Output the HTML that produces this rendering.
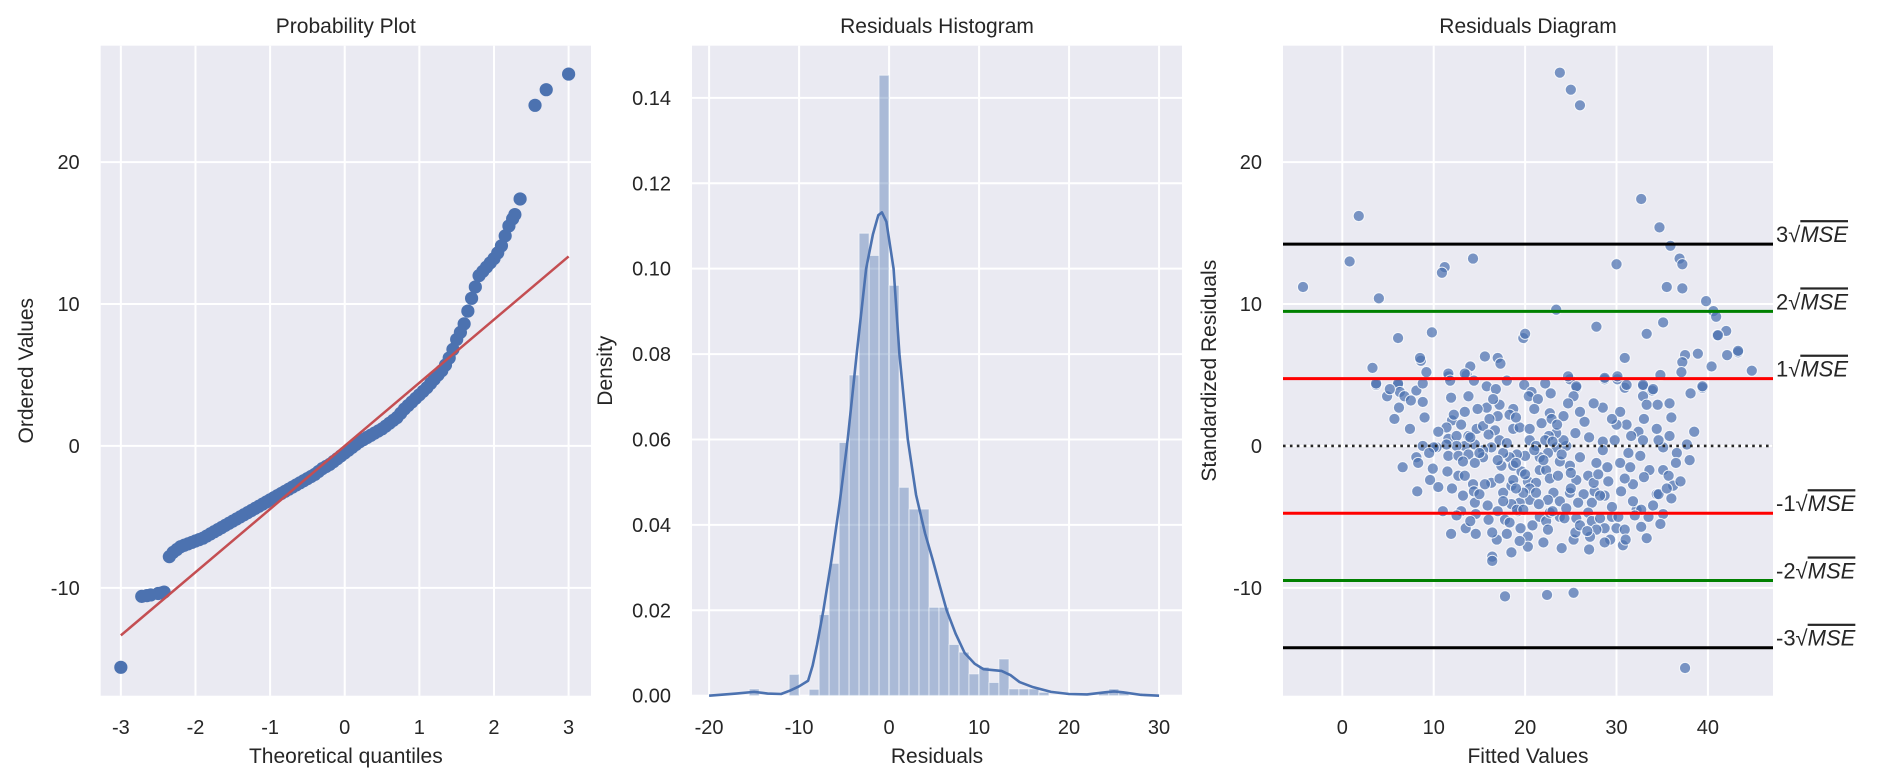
<!DOCTYPE html>
<html><head><meta charset="utf-8">
<style>
html,body{margin:0;padding:0;background:#fff;}
svg{display:block;font-family:"Liberation Sans","NanumGothic",sans-serif;}
</style></head>
<body>
<svg id="fig" width="1882" height="781" viewBox="0 0 1882 781" xmlns="http://www.w3.org/2000/svg"></svg>
<script>
// ---------- Panel 1: probability plot data ----------
const qqTheoretical = [-3.0,-2.72,-2.6,-2.5,-2.42,-2.35,-2.3,-2.2,-2.1,-2.0,-1.9,-1.8,-1.7,-1.6,-1.5,-1.4,-1.3,-1.2,-1.1,-1.0,-0.9,-0.8,-0.7,-0.6,-0.5,-0.4,-0.3,-0.2,-0.1,0,0.1,0.2,0.3,0.4,0.5,0.6,0.7,0.8,0.9,1.0,1.1,1.2,1.3,1.4,1.5,1.6,1.7,1.8,1.9,2.0,2.1,2.2,2.28,2.35,2.55,2.7,3.0,
-2.65,-2.45,-2.25,-2.15,-2.05,-1.95,-1.85,-1.75,-1.65,-1.55,-1.45,-1.35,-1.25,-1.15,-1.05,-0.95,-0.85,-0.75,-0.65,-0.55,-0.45,-0.35,-0.25,-0.15,-0.05,0.05,0.15,0.25,0.35,0.45,0.55,0.65,0.75,0.85,0.95,1.05,1.15,1.25,1.35,1.45,1.55,1.65,1.75,1.85,1.95,2.05,2.15,2.25];
const qqOrdered = [-15.6,-10.6,-10.5,-10.4,-10.3,-7.8,-7.5,-7.1,-6.9,-6.7,-6.5,-6.2,-5.9,-5.6,-5.3,-5.0,-4.7,-4.4,-4.1,-3.8,-3.5,-3.2,-2.9,-2.6,-2.3,-2.0,-1.6,-1.3,-0.9,-0.5,-0.1,0.3,0.6,0.9,1.2,1.6,2.0,2.6,3.1,3.6,4.1,4.7,5.3,6.2,7.5,8.6,10.4,12.0,12.6,13.2,14.1,15.5,16.3,17.4,24.0,25.1,26.2,
-10.55,-10.35,-7.3,-7.0,-6.8,-6.6,-6.35,-6.05,-5.75,-5.45,-5.15,-4.85,-4.55,-4.25,-3.95,-3.65,-3.35,-3.05,-2.75,-2.45,-2.15,-1.8,-1.45,-1.1,-0.7,-0.3,0.1,0.45,0.75,1.05,1.4,1.8,2.3,2.85,3.35,3.85,4.4,5.0,5.7,6.8,8.0,9.5,11.2,12.3,12.9,13.6,14.8,16.0];
const qqFitSlope = 4.45;
const qqFitIntercept = 0.0;
const qqFitRange = [-3, 3];
const p1XTicks = [-3,-2,-1,0,1,2,3];
const p1YTicks = [-10,0,10,20];

// ---------- Panel 2: histogram data ----------
const binStart = -15.54;
const binWidth = 1.11;
const binDensity = [0.0016,0,0,0,0.005,0,0.0015,0.019,0.031,0.0593,0.0751,0.1083,0.1031,0.1453,0.0961,0.0488,0.0437,0.0437,0.0207,0.0207,0.012,0.0102,0.0051,0.0067,0.0031,0.0086,0.0016,0.0016,0.0016,0.0008,0,0,0,0,0,0.0008,0.0016,0.0008];
const kdeX = [-20,-17,-15,-13.5,-12,-11,-10,-9,-8.5,-8,-7.3,-6.4,-5.5,-4.6,-3.6,-2.55,-1.8,-1.2,-0.8,-0.3,0.5,1.15,2.08,3,4,4.85,5.6,6.4,7.4,8.4,9.5,10.5,11.5,12.5,13.5,14.5,16,18,20,22,24,25,26,28,30];
const kdeY = [0,0.0005,0.0009,0.0005,0.0004,0.0012,0.0022,0.0035,0.007,0.012,0.02,0.0318,0.045,0.06,0.08,0.10,0.108,0.1125,0.1132,0.111,0.10,0.08,0.06,0.047,0.038,0.0318,0.026,0.02,0.0145,0.01,0.0075,0.0062,0.006,0.0058,0.0048,0.0032,0.002,0.0009,0.0004,0.0003,0.0008,0.001,0.0008,0.0002,0];
const p2XTicks = [-20,-10,0,10,20,30];
const p2YTicks = [0,0.02,0.04,0.06,0.08,0.10,0.12,0.14];
const p2YTickLabels = ["0.00","0.02","0.04","0.06","0.08","0.10","0.12","0.14"];

// ---------- Panel 3: residuals diagram data ----------
const residualPoints = [
[23.8,26.3],[25.0,25.1],[26.0,24.0],[1.8,16.2],[32.7,17.4],[34.7,15.4],[35.9,14.1],[36.9,13.2],[37.2,12.8],[30.0,12.8],
[14.3,13.2],[11.2,12.6],[10.9,12.2],[0.8,13.0],[-4.3,11.2],[4.0,10.4],[35.5,11.2],[37.2,11.1],[39.8,10.2],[40.6,9.5],
[40.9,9.1],[23.4,9.6],[27.8,8.4],[35.1,8.7],[33.3,7.9],[42.0,8.1],[41.0,7.8],[9.8,8.0],[6.1,7.6],[19.8,7.6],
[20.0,7.9],[43.3,6.6],[42.1,6.4],[38.9,6.5],[37.5,6.4],[30.9,6.2],[15.6,6.3],[17.0,6.2],[17.3,5.8],[14.0,5.6],
[8.6,6.0],[3.3,5.5],[9.2,5.2],[44.8,5.3],[40.4,5.6],[37.2,5.9],[37.1,5.2],[34.8,5.0],[30.1,4.7],[28.7,4.7],
[24.9,4.7],[25.6,4.1],[11.6,4.9],[13.6,5.0],[3.7,4.3],[6.1,4.3],[32.9,4.2],[39.4,4.1],[33.9,3.9],[30.9,4.1],
[11.6,5.1],[13.4,5.1],[8.5,6.2],[43.3,6.7],[41.1,7.8],
[3.7,4.4],[6.1,4.4],[6.3,3.8],[6.8,3.5],[4.9,3.5],[8.1,3.9],[8.8,4.4],[8.8,3.1],[6.2,2.7],[5.7,1.9],
[7.4,1.2],[11.8,4.6],[14.4,4.6],[11.9,3.4],[13.8,3.5],[15.8,4.2],[16.8,4.0],[18.0,4.6],[19.9,4.3],[20.7,3.8],
[20.4,3.5],[21.4,3.3],[22.2,4.4],[22.8,3.7],[24.7,4.9],[25.6,4.2],[25.3,3.5],[24.7,3.0],[28.7,4.8],[30.1,4.9],
[31.1,4.3],[32.9,4.3],[34.0,4.0],[32.9,3.5],[33.3,2.9],[34.5,2.9],[35.8,3.0],[38.1,3.7],[39.4,4.2],[28.5,2.7],
[30.4,2.4],[31.1,1.5],[32.4,1.0],[34.4,1.2],[35.8,0.7],[37.7,0.1],[36.6,-0.5],[35.1,-0.1],[34.6,0.4],[32.9,0.4],
[31.6,0.7],[29.8,0.4],[28.5,0.3],[28.5,-0.3],[31.3,-0.5],[32.6,-0.7],[33.6,-1.7],[35.1,-1.7],[35.7,-2.1],[36.2,-2.8],
[36.0,-3.7],[34.4,-3.4],[31.8,-2.7],[30.9,-2.3],[30.4,-1.2],[29.1,-2.5],[28.7,-3.5],[27.8,-1.2],[26.9,-2.1],[27.6,-3.2],
[27.3,-4.0],[26.4,-3.4],[25.8,-4.0],[24.9,-3.3],[25.6,-2.4],[24.9,-1.4],[23.8,-1.1],[24.5,0.0],[25.5,0.9],[24.2,0.4],
[23.4,0.9],[22.6,0.7],[21.8,1.6],[24.2,2.1],[22.7,2.3],[22.9,1.9],[18.7,2.6],[18.3,2.2],[17.0,2.1],[17.2,2.9],
[15.8,2.7],[14.8,2.6],[13.4,2.4],[12.0,1.8],[11.4,1.3],[11.6,0.5],[12.5,0.7],[13.8,0.7],[14.7,1.2],[15.4,1.4],
[16.1,1.9],[16.7,1.1],[17.2,0.4],[18.7,1.2],[19.4,1.3],[20.5,1.2],[20.5,0.4],[21.2,0.0],[22.2,0.4],[23.4,-0.1],
[22.5,-0.5],[21.6,-0.8],[20.0,-0.7],[19.1,-0.6],[18.3,-0.8],[17.6,-0.5],[16.3,-0.1],[15.4,-0.3],[14.5,0.1],[13.4,0.0],
[12.5,0.0],[11.4,0.1],[10.3,-0.1],[8.8,0.0],[10.0,-0.1],[11.6,-0.7],[12.7,-0.7],[13.8,-0.6],[15.4,-0.8],[14.5,-1.2],
[13.2,-1.1],[8.1,-0.8],[8.3,-1.2],[6.6,-1.5],[9.9,-1.6],[9.6,-2.4],[8.2,-3.2],[12.7,-2.1],[13.4,-2.1],[14.3,-2.7],
[14.4,-3.2],[13.2,-3.5],[14.5,-4.0],[15.9,-4.2],[16.3,-2.6],[17.2,-2.3],[17.6,-3.3],[18.5,-2.8],[18.7,-1.4],[19.6,-1.8],
[20.3,-2.5],[20.5,-3.8],[19.4,-4.0],[19.2,-4.6],[18.5,-4.1],[17.6,-3.9],[17.8,-5.2],[18.3,-5.4],[19.1,-4.5],[19.8,-4.5],
[21.6,-5.0],[22.3,-5.3],[22.7,-4.7],[23.8,-5.0],[24.3,-5.1],[25.6,-5.1],[26.9,-4.7],[27.3,-5.3],[28.2,-5.1],[28.7,-5.8],
[29.5,-5.0],[30.2,-5.0],[30.0,-5.8],[30.9,-5.9],[32.7,-5.7],[33.3,-6.5],[33.5,-5.0],[32.2,-4.5],[32.7,-4.5],[35.1,-4.8],
[31.8,-3.9],[34.6,-3.4],[28.2,-3.5],[27.8,-5.9],[29.3,-6.6],[30.7,-7.0],[28.7,-6.8],[27.1,-6.4],[25.3,-6.6],[25.5,-6.1],
[20.3,-6.4],[20.3,-7.1],[19.4,-6.7],[18.5,-7.5],[16.4,-7.8],[16.9,-6.6],[16.4,-6.1],[14.6,-6.2],[13.5,-5.8],[11.9,-6.2],
[11.0,-4.6],[13.0,-4.6],[14.6,-4.8],[15.6,-2.7],[17.4,-1.4],[21.6,-1.7],[22.3,-1.7],[22.7,-2.3],[21.2,-2.6],[20.5,-3.0],
[23.6,-2.1],[23.1,-3.3],[23.8,-3.9],[22.5,-3.8],[21.2,-3.3],[19.8,-3.3],[18.7,-2.4],
[16.4,-8.1],[17.8,-10.6],[22.4,-10.5],[25.3,-10.35],[37.5,-15.65],
[12.2,2.2],[13.0,1.5],[14.0,0.6],[15.0,-0.5],[16.0,0.8],[17.0,-1.0],[18.0,0.2],[19.0,-1.2],[20.0,-2.0],[21.0,-0.3],
[22.0,-1.0],[23.0,0.3],[24.0,-0.6],[25.0,-1.9],[26.0,-0.8],[27.0,0.6],[26.5,1.7],[27.5,-2.6],[29.0,-1.5],[30.0,1.5],
[31.5,-1.5],[33.0,-2.2],[34.0,-4.2],[36.5,-1.2],[29.5,-4.3],[26.0,-5.6],[24.5,-4.4],[23.0,-4.6],[21.5,-4.1],[20.8,-5.6],
[19.5,-5.8],[18.0,-6.2],[16.0,-5.2],[15.0,-3.4],[12.0,-3.0],[11.5,-1.8],[10.5,-2.9],[9.5,-0.5],[10.5,1.0],[9.0,2.0],
[7.5,3.2],[5.2,4.0],[16.5,3.3],[19.0,2.0],[21.0,2.6],[23.5,1.5],[26.0,2.4],[27.5,3.0],[29.5,1.9],[33.0,1.9],
[36.0,2.0],[37.0,-2.5],[34.8,-5.5],[31.0,-6.6],[27.0,-7.3],[22.0,-6.8],[24.0,-7.2],[26.8,-6.0],[19.0,-3.0],[17.0,-4.6],
[14.0,-5.3],[12.5,-4.9],[22.5,-5.9],[25.0,-3.0],[28.0,-2.0],[30.5,-3.2],[32.0,-4.9],[35.5,-3.0],[38.0,-1.0],[38.5,1.0]
];
const sqrtMSE = 4.74;
const mseMultiples = [3,2,1,-1,-2,-3];
const mseColors = {"3":"#000000","2":"#008000","1":"#ff0000","-1":"#ff0000","-2":"#008000","-3":"#000000"};
const p3XTicks = [0,10,20,30,40];
const p3YTicks = [-10,0,10,20];

// ---------- helpers ----------
const NS = "http://www.w3.org/2000/svg";
const svg = document.getElementById('fig');
function el(tag, attrs, parent){
  const e = document.createElementNS(NS, tag);
  for (const k in attrs) e.setAttribute(k, attrs[k]);
  (parent || svg).appendChild(e);
  return e;
}
function scale(d0,d1,r0,r1){ return v => r0 + (v-d0)/(d1-d0)*(r1-r0); }

const TOP = 45.7, BOT = 695.7;
const panels = [
  {name:'probability-plot', x0:100.7, x1:591, xd:[-3.27,3.30], yd:[-17.6,28.2]},
  {name:'residuals-histogram', x0:692, x1:1182, xd:[-21.9,32.55], yd:[0,0.15222]},
  {name:'residuals-diagram', x0:1283, x1:1773, xd:[-6.49,47.12], yd:[-17.6,28.2]}
];
panels.forEach(p => {
  p.sx = scale(p.xd[0],p.xd[1],p.x0,p.x1);
  p.sy = scale(p.yd[0],p.yd[1],BOT,TOP);
});

function drawFrame(p, xt, yt, xLabels, yLabels, title, xTitle, yTitle, yTitleX){
  const g = el('g', {});
  
  
  const bg = el('rect', {x:p.x0, y:TOP, width:p.x1-p.x0, height:BOT-TOP, fill:'#eaeaf2'}, g);
  
  
  xt.forEach((t,i) => {
    const x = p.sx(t);
    const gl = el('line', {x1:x, x2:x, y1:TOP, y2:BOT, stroke:'#fff', 'stroke-width':2}, g);
    
    
    const tl = el('text', {x:x, y:734, 'text-anchor':'middle', 'font-size':20, fill:'#262626'}, g);
    
    
    tl.textContent = xLabels ? xLabels[i] : String(t);
  });
  yt.forEach((t,i) => {
    const y = p.sy(t);
    const gl = el('line', {x1:p.x0, x2:p.x1, y1:y, y2:y, stroke:'#fff', 'stroke-width':2}, g);
    
    
    const tl = el('text', {x:p.x0-21, y:y+7, 'text-anchor':'end', 'font-size':20, fill:'#262626'}, g);
    
    
    tl.textContent = yLabels ? yLabels[i] : String(t);
  });
  const cx = (p.x0+p.x1)/2;
  const tt = el('text', {x:cx, y:33, 'text-anchor':'middle', 'font-size':21, fill:'#262626'});
  
  
  tt.textContent = title;
  const xl = el('text', {x:cx, y:763, 'text-anchor':'middle', 'font-size':21, fill:'#262626'});
  
  
  xl.textContent = xTitle;
  const cy = (TOP+BOT)/2;
  const yl = el('text', {x:yTitleX, y:cy, 'text-anchor':'middle', 'font-size':21, fill:'#262626', transform:`rotate(-90 ${yTitleX} ${cy})`});
  
  
  yl.textContent = yTitle;
  return g;
}

// ---------- Panel 1 ----------
const P1 = panels[0];
const g1 = drawFrame(P1, p1XTicks, p1YTicks, null, null, 'Probability Plot', 'Theoretical quantiles', 'Ordered Values', 33);
qqTheoretical.forEach((q,i) => {
  const c = el('circle', {cx:P1.sx(q), cy:P1.sy(qqOrdered[i]), r:6.6, fill:'#4c72b0'}, g1);
  
  
});
const fitLine = el('line', {x1:P1.sx(qqFitRange[0]), y1:P1.sy(qqFitIntercept+qqFitSlope*qqFitRange[0]), x2:P1.sx(qqFitRange[1]), y2:P1.sy(qqFitIntercept+qqFitSlope*qqFitRange[1]), stroke:'#c44e52', 'stroke-width':2.5}, g1);



// ---------- Panel 2 ----------
const P2 = panels[1];
const g2 = drawFrame(P2, p2XTicks, p2YTicks, null, p2YTickLabels, 'Residuals Histogram', 'Residuals', 'Density', 612);
binDensity.forEach((d,i) => {
  if (d <= 0) return;
  const a = binStart + i*binWidth, b = a + binWidth;
  const x0 = P2.sx(a), x1 = P2.sx(b), y = P2.sy(d);
  const r = el('rect', {x:x0, y:y, width:x1-x0, height:P2.sy(0)-y, fill:'rgba(76,114,176,0.4)', stroke:'rgba(255,255,255,0.55)', 'stroke-width':1}, g2);
  
  
});
const kdePath = kdeX.map((x,i) => (i?'L':'M') + P2.sx(x).toFixed(2) + ' ' + P2.sy(kdeY[i]).toFixed(2)).join(' ');
const kde = el('path', {d:kdePath, fill:'none', stroke:'#4c72b0', 'stroke-width':2.6, 'stroke-linejoin':'round'}, g2);



// ---------- Panel 3 ----------
const P3 = panels[2];
const g3 = drawFrame(P3, p3XTicks, p3YTicks, null, null, 'Residuals Diagram', 'Fitted Values', 'Standardized Residuals', 1216);
residualPoints.forEach(pt => {
  const c = el('circle', {cx:P3.sx(pt[0]), cy:P3.sy(pt[1]), r:5.6, fill:'rgba(76,114,176,0.72)', stroke:'rgba(255,255,255,0.85)', 'stroke-width':1}, g3);
  
  
});
const zl = el('line', {x1:P3.x0, x2:P3.x1, y1:P3.sy(0), y2:P3.sy(0), stroke:'#262626', 'stroke-width':2.6, 'stroke-dasharray':'2.6 4.3'}, g3);


mseMultiples.forEach(m => {
  const y = P3.sy(m*sqrtMSE);
  const l = el('line', {x1:P3.x0, x2:P3.x1, y1:y, y2:y, stroke:mseColors[String(m)], 'stroke-width':3}, g3);
  
  
  const t = el('text', {x:P3.x1+3, y:y-2, 'font-size':22, fill:'#262626'});
  
  
  const t1 = el('tspan', {}, t);
  t1.textContent = (m>0 ? String(m) : '-' + Math.abs(m)) + '\u221A';
  const t2 = el('tspan', {'font-style':'italic', 'text-decoration':'overline'}, t);
  t2.textContent = 'MSE';
});
</script>
</body></html>
